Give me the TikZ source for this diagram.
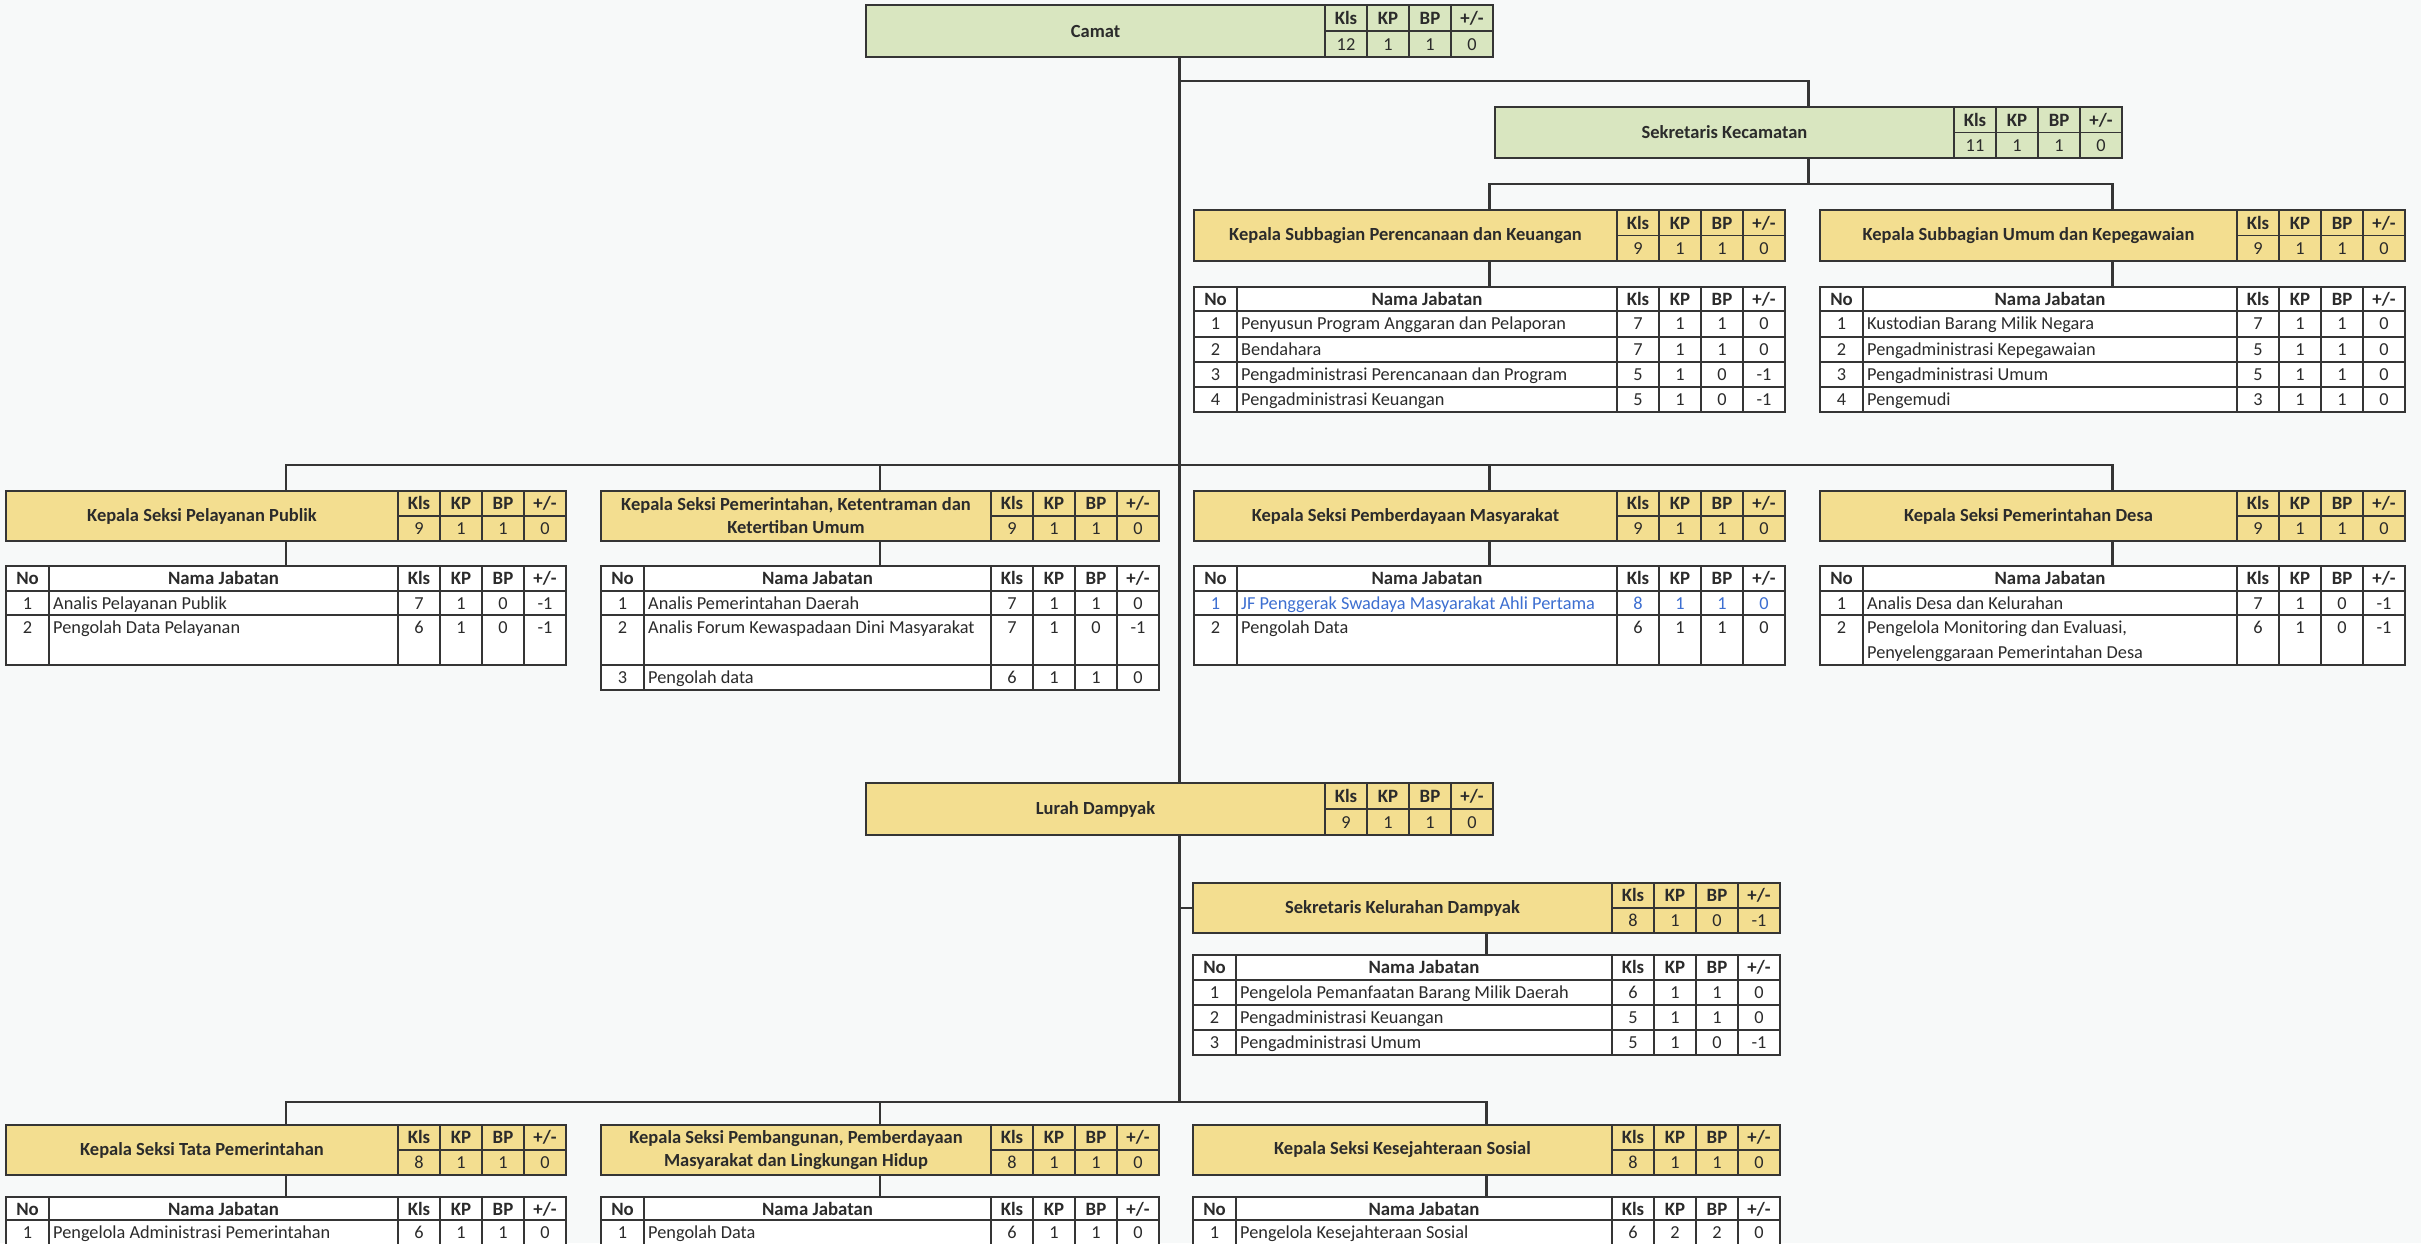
\documentclass[tikz,border=0pt]{standalone}
\usepackage{fontspec}
\setmainfont{Carlito}
\usetikzlibrary{fit}
\definecolor{lc}{HTML}{353535}
\definecolor{tc}{HTML}{2B2B2B}
\definecolor{gfill}{HTML}{D9E6C0}
\definecolor{yfill}{HTML}{F3DE90}
\definecolor{bgc}{HTML}{F7F9F9}
\definecolor{bluetx}{HTML}{3D6FD1}
\tikzset{
  ln/.style={draw=lc, line width=1.7pt},
  outer/.style={draw=lc, line width=2.3pt, inner sep=0pt, outer sep=0pt},
  conn/.style={draw=lc, line width=2.2pt},
  ttl/.style={font=\bfseries\fontsize{18.5}{23}\selectfont, text=tc, align=center, inner sep=0pt},
  hd/.style={font=\bfseries\fontsize{18.8}{20}\selectfont, text=tc, anchor=base, inner sep=0pt},
  tx/.style={font=\fontsize{18.3}{20}\selectfont, text=tc, anchor=base, inner sep=0pt},
}
% box with title and stats: #1 name, #2 x1, #3 y1, #4 x2, #5 y2, #6 fill, #7 title, #8 values
\newcommand{\ubox}[8]{%
  \node[outer, fill=#6, fit={(#2,#3) (#4,#5)}] (#1) {};
  \pgfmathsetmacro{\ubxs}{#4-168}
  \pgfmathsetmacro{\ubym}{(#3+#5)/2}
  \pgfmathsetmacro{\ubyh}{(#3+\ubym)/2+6.3}
  \pgfmathsetmacro{\ubyv}{(\ubym+#5)/2+6.3}
  \pgfmathsetmacro{\ubxt}{(#2+\ubxs)/2}
  \node[ttl] (#1-t) at (\ubxt,\ubym) {#7};
  \draw[ln] (\ubxs,#3) -- (\ubxs,#5) (\ubxs,\ubym) -- (#4,\ubym);
  \foreach \k in {1,2,3} {\draw[ln] ({\ubxs+42*\k},#3) -- ({\ubxs+42*\k},#5);}
  \node[hd] (#1-h0) at ({\ubxs+21},\ubyh) {Kls};
  \node[hd] (#1-h1) at ({\ubxs+63},\ubyh) {KP};
  \node[hd] (#1-h2) at ({\ubxs+105},\ubyh) {BP};
  \node[hd] (#1-h3) at ({\ubxs+147},\ubyh) {+/-};
  \foreach \v [count=\k from 0] in {#8} {\node[tx] (#1-v\k) at ({\ubxs+21+42*\k},\ubyv) {\v};}
}
% table header: #1 prefix, #2 x1, #3 x2, #4 ytop, #5 ybot
\newcommand{\jhead}[5]{%
  \pgfmathsetmacro{\jxs}{#3-168}
  \pgfmathsetmacro{\jb}{#4+18.5}
  \pgfmathsetmacro{\jnx}{(#2+43+\jxs)/2}
  \draw[ln, fill=white] (#2,#4) rectangle (#3,#5);
  \draw[ln] ({#2+43},#4) -- ({#2+43},#5) (\jxs,#4) -- (\jxs,#5);
  \foreach \k in {1,2,3} {\draw[ln] ({\jxs+42*\k},#4) -- ({\jxs+42*\k},#5);}
  \node[hd] (#1-no) at ({#2+21.5},\jb) {No};
  \node[hd] (#1-nj) at (\jnx,\jb) {Nama Jabatan};
  \node[hd] (#1-h0) at ({\jxs+21},\jb) {Kls};
  \node[hd] (#1-h1) at ({\jxs+63},\jb) {KP};
  \node[hd] (#1-h2) at ({\jxs+105},\jb) {BP};
  \node[hd] (#1-h3) at ({\jxs+147},\jb) {+/-};
}
% table row: [#1 colour], #2 prefix, #3 x1, #4 x2, #5 ytop, #6 ybot, #7 no, #8 name, #9 values
\newcommand{\jrow}[9][tc]{%
  \pgfmathsetmacro{\jxs}{#4-168}
  \pgfmathsetmacro{\jb}{#5+18.8}
  \draw[ln, fill=white] (#3,#5) rectangle (#4,#6);
  \draw[ln] ({#3+43},#5) -- ({#3+43},#6) (\jxs,#5) -- (\jxs,#6);
  \foreach \k in {1,2,3} {\draw[ln] ({\jxs+42*\k},#5) -- ({\jxs+42*\k},#6);}
  \node[tx, text=#1] (#2-no) at ({#3+21.5},\jb) {#7};
  \node[tx, text=#1, anchor=base west] (#2-nm) at ({#3+47},\jb) {#8};
  \foreach \v [count=\k from 0] in {#9} {\node[tx, text=#1] (#2-v\k) at ({\jxs+21+42*\k},\jb) {\v};}
}
\begin{document}
\begin{tikzpicture}[x=1pt, y=-1pt]
\useasboundingbox (0,0) rectangle (2421,1243);
\fill[bgc] (0,0) rectangle (2421,1243);

% ---------- boxes ----------
\ubox{camat}{866}{5}{1493}{57}{gfill}{Camat}{12,1,1,0}
\ubox{sek}{1495}{107}{2122}{158}{gfill}{Sekretaris Kecamatan}{11,1,1,0}
\ubox{sbp}{1194}{210}{1785}{261}{yfill}{Kepala Subbagian Perencanaan dan Keuangan}{9,1,1,0}
\ubox{sbu}{1820}{210}{2405}{261}{yfill}{Kepala Subbagian Umum dan Kepegawaian}{9,1,1,0}
\ubox{pel}{6}{491}{566}{541}{yfill}{Kepala Seksi Pelayanan Publik}{9,1,1,0}
\ubox{pem}{601}{491}{1159}{541}{yfill}{Kepala Seksi Pemerintahan, Ketentraman dan\\Ketertiban Umum}{9,1,1,0}
\ubox{pmb}{1194}{491}{1785}{541}{yfill}{Kepala Seksi Pemberdayaan Masyarakat}{9,1,1,0}
\ubox{pds}{1820}{491}{2405}{541}{yfill}{Kepala Seksi Pemerintahan Desa}{9,1,1,0}
\ubox{lurah}{866}{783}{1493}{835}{yfill}{Lurah Dampyak}{9,1,1,0}
\ubox{skl}{1193}{883}{1780}{933}{yfill}{Sekretaris Kelurahan Dampyak}{8,1,0,-1}
\ubox{tata}{6}{1125}{566}{1175}{yfill}{Kepala Seksi Tata Pemerintahan}{8,1,1,0}
\ubox{pbg}{601}{1125}{1159}{1175}{yfill}{Kepala Seksi Pembangunan, Pemberdayaan\\Masyarakat dan Lingkungan Hidup}{8,1,1,0}
\ubox{kes}{1193}{1125}{1780}{1175}{yfill}{Kepala Seksi Kesejahteraan Sosial}{8,1,1,0}

% ---------- tables ----------
% Perencanaan dan Keuangan
\jhead{tprh}{1194}{1785}{287}{311}
\jrow{tpr1}{1194}{1785}{311}{337}{1}{Penyusun Program Anggaran dan Pelaporan}{7,1,1,0}
\jrow{tpr2}{1194}{1785}{337}{362}{2}{Bendahara}{7,1,1,0}
\jrow{tpr3}{1194}{1785}{362}{387}{3}{Pengadministrasi Perencanaan dan Program}{5,1,0,-1}
\jrow{tpr4}{1194}{1785}{387}{412}{4}{Pengadministrasi Keuangan}{5,1,0,-1}
\node[outer, fit={(1194,287) (1785,412)}] (tpr) {};
% Umum dan Kepegawaian
\jhead{tumh}{1820}{2405}{287}{311}
\jrow{tum1}{1820}{2405}{311}{337}{1}{Kustodian Barang Milik Negara}{7,1,1,0}
\jrow{tum2}{1820}{2405}{337}{362}{2}{Pengadministrasi Kepegawaian}{5,1,1,0}
\jrow{tum3}{1820}{2405}{362}{387}{3}{Pengadministrasi Umum}{5,1,1,0}
\jrow{tum4}{1820}{2405}{387}{412}{4}{Pengemudi}{3,1,1,0}
\node[outer, fit={(1820,287) (2405,412)}] (tum) {};
% Pelayanan Publik
\jhead{tpelh}{6}{566}{566}{591}
\jrow{tpel1}{6}{566}{591}{615}{1}{Analis Pelayanan Publik}{7,1,0,-1}
\jrow{tpel2}{6}{566}{615}{665}{2}{Pengolah Data Pelayanan}{6,1,0,-1}
\node[outer, fit={(6,566) (566,665)}] (tpel) {};
% Pemerintahan, Ketentraman
\jhead{tpemh}{601}{1159}{566}{591}
\jrow{tpem1}{601}{1159}{591}{615}{1}{Analis Pemerintahan Daerah}{7,1,1,0}
\jrow{tpem2}{601}{1159}{615}{665}{2}{Analis Forum Kewaspadaan Dini Masyarakat}{7,1,0,-1}
\jrow{tpem3}{601}{1159}{665}{690}{3}{Pengolah data}{6,1,1,0}
\node[outer, fit={(601,566) (1159,690)}] (tpem) {};
% Pemberdayaan Masyarakat
\jhead{tpmbh}{1194}{1785}{566}{591}
\jrow[bluetx]{tpmb1}{1194}{1785}{591}{615}{1}{JF Penggerak Swadaya Masyarakat Ahli Pertama}{8,1,1,0}
\jrow{tpmb2}{1194}{1785}{615}{665}{2}{Pengolah Data}{6,1,1,0}
\node[outer, fit={(1194,566) (1785,665)}] (tpmb) {};
% Pemerintahan Desa
\jhead{tpdsh}{1820}{2405}{566}{591}
\jrow{tpds1}{1820}{2405}{591}{615}{1}{Analis Desa dan Kelurahan}{7,1,0,-1}
\jrow{tpds2}{1820}{2405}{615}{665}{2}{Pengelola Monitoring dan Evaluasi,}{6,1,0,-1}
\node[tx, anchor=base west] (tpds2-nm2) at (1867,658) {Penyelenggaraan Pemerintahan Desa};
\node[outer, fit={(1820,566) (2405,665)}] (tpds) {};
% Sekretaris Kelurahan
\jhead{tsklh}{1193}{1780}{955}{980}
\jrow{tskl1}{1193}{1780}{980}{1005}{1}{Pengelola Pemanfaatan Barang Milik Daerah}{6,1,1,0}
\jrow{tskl2}{1193}{1780}{1005}{1030}{2}{Pengadministrasi Keuangan}{5,1,1,0}
\jrow{tskl3}{1193}{1780}{1030}{1055}{3}{Pengadministrasi Umum}{5,1,0,-1}
\node[outer, fit={(1193,955) (1780,1055)}] (tskl) {};
% Tata Pemerintahan
\jhead{ttath}{6}{566}{1197}{1220}
\jrow{ttat1}{6}{566}{1220}{1252}{1}{Pengelola Administrasi Pemerintahan}{6,1,1,0}
\node[outer, fit={(6,1197) (566,1252)}] (ttat) {};
% Pembangunan
\jhead{tpbgh}{601}{1159}{1197}{1220}
\jrow{tpbg1}{601}{1159}{1220}{1252}{1}{Pengolah Data}{6,1,1,0}
\node[outer, fit={(601,1197) (1159,1252)}] (tpbg) {};
% Kesejahteraan Sosial
\jhead{tkesh}{1193}{1780}{1197}{1220}
\jrow{tkes1}{1193}{1780}{1220}{1252}{1}{Pengelola Kesejahteraan Sosial}{6,2,2,0}
\node[outer, fit={(1193,1197) (1780,1252)}] (tkes) {};

% ---------- connectors ----------
\coordinate (busA) at (0,81);
\coordinate (busB) at (0,184);
\coordinate (busC) at (0,465);
\coordinate (busD) at (0,1102);
\draw[conn] (camat.south) -- (lurah.north);
\draw[conn] (camat.south |- busA) -| (sek.north);
\draw[conn] (sek.south) -- (sek.south |- busB);
\draw[conn] (sbp.north) |- (sbu.north |- busB) -- (sbu.north);
\draw[conn] (sbp.south) -- (tpr.north);
\draw[conn] (sbu.south) -- (tum.north);
\draw[conn] (pel.north) |- (pds.north |- busC) -- (pds.north);
\draw[conn] (pem.north) -- (pem.north |- busC);
\draw[conn] (pmb.north) -- (pmb.north |- busC);
\draw[conn] (pel.south) -- (tpel.north);
\draw[conn] (pem.south) -- (tpem.north);
\draw[conn] (pmb.south) -- (tpmb.north);
\draw[conn] (pds.south) -- (tpds.north);
\draw[conn] (lurah.south) -- (lurah.south |- busD);
\draw[conn] (lurah.south |- skl.west) -- (skl.west);
\draw[conn] (skl.south) -- (tskl.north);
\draw[conn] (tata.north) |- (kes.north |- busD) -- (kes.north);
\draw[conn] (pbg.north) -- (pbg.north |- busD);
\draw[conn] (tata.south) -- (ttat.north);
\draw[conn] (pbg.south) -- (tpbg.north);
\draw[conn] (kes.south) -- (tkes.north);
\end{tikzpicture}
\end{document}
